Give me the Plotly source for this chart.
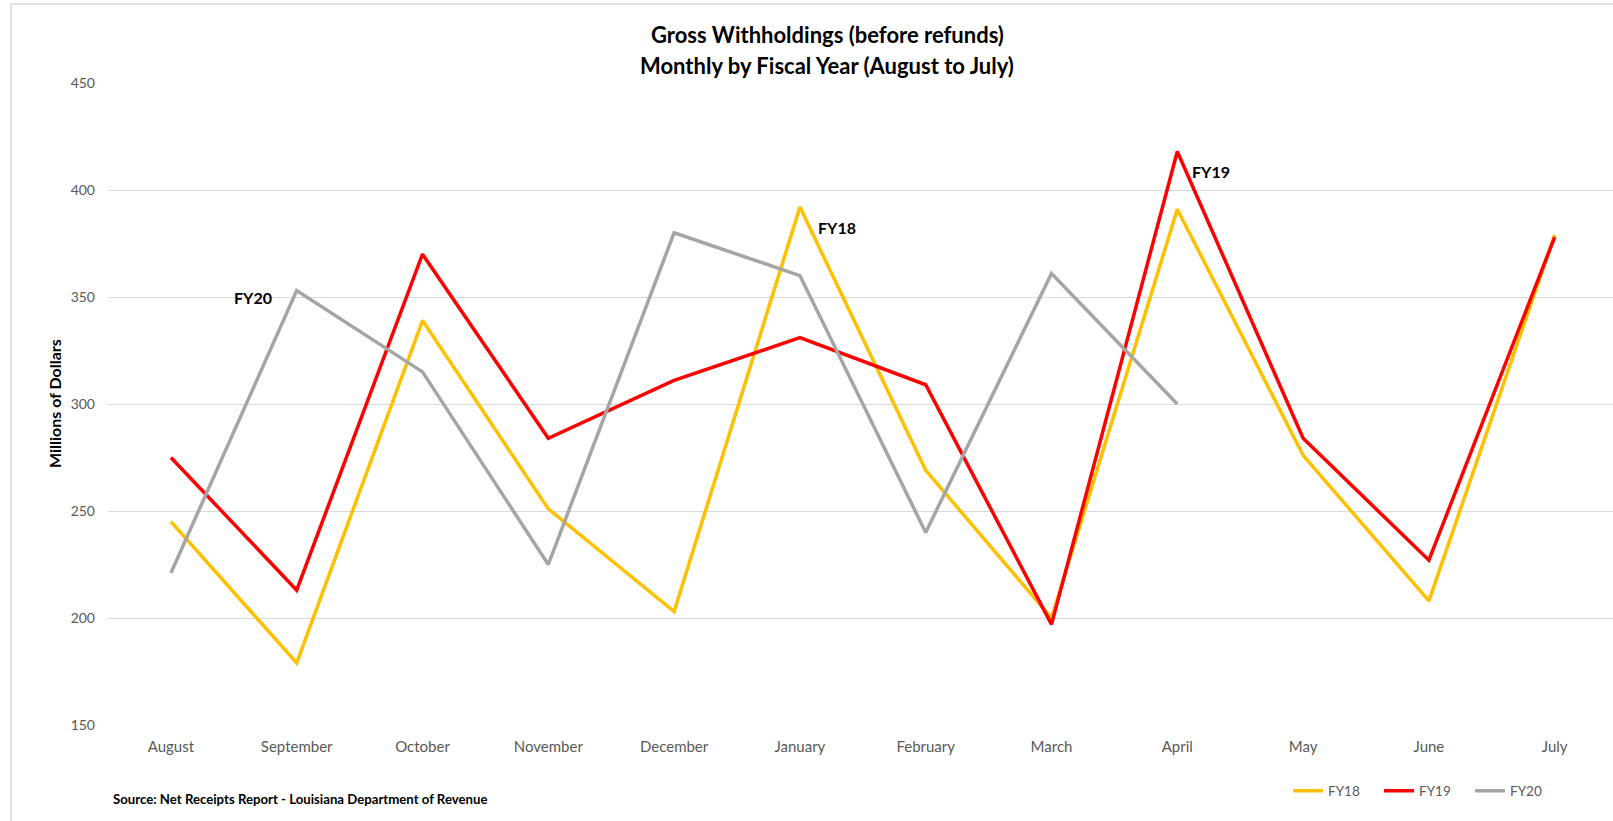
import plotly.graph_objects as go

months = ["August", "September", "October", "November", "December", "January",
          "February", "March", "April", "May", "June", "July"]
fy18 = [245, 179, 339, 251, 203, 392, 269, 200, 391, 276, 208, 379]
fy19 = [275, 213, 370, 284, 311, 331, 309, 197, 418, 284, 227, 378]
fy20 = [221, 353, 315, 225, 380, 360, 240, 361, 300]
y_ticks = [150, 200, 250, 300, 350, 400, 450]

FONT = "Lato"
W, H = 1613, 821
ML, MR, MT, MB = 108, 0, 83, 96
PW = W - ML - MR
PH = H - MT - MB

def px_x(x):
    return (x - ML) / PW

def px_y(y):
    return (H - MB - y) / PH

fig = go.Figure()
fig.add_trace(go.Scatter(x=months, y=fy18, name="FY18", mode="lines",
                         line=dict(color="#FFC000", width=3.5)))
fig.add_trace(go.Scatter(x=months, y=fy19, name="FY19", mode="lines",
                         line=dict(color="#FF0000", width=3.5)))
fig.add_trace(go.Scatter(x=months[:len(fy20)], y=fy20, name="FY20", mode="lines",
                         line=dict(color="#A5A5A5", width=3.5)))

annotations = [
    dict(text="<b>Gross Withholdings (before refunds)</b>", xref="paper", yref="paper",
         x=px_x(827), y=px_y(34), xanchor="center", yanchor="middle", showarrow=False,
         font=dict(family=FONT, size=22, color="#000000")),
    dict(text="<b>Monthly by Fiscal Year (August to July)</b>", xref="paper", yref="paper",
         x=px_x(827), y=px_y(65), xanchor="center", yanchor="middle", showarrow=False,
         font=dict(family=FONT, size=22, color="#000000")),
    dict(text="<b>Millions of Dollars</b>", xref="paper", yref="paper", textangle=-90,
         x=px_x(54), y=px_y(404), xanchor="center", yanchor="middle", showarrow=False,
         font=dict(family=FONT, size=16, color="#000000")),
    dict(text="<b>Source: Net Receipts Report - Louisiana Department of Revenue</b>",
         xref="paper", yref="paper", x=px_x(111), y=px_y(799), xanchor="left",
         yanchor="middle", showarrow=False,
         font=dict(family=FONT, size=13.2, color="#000000")),
    dict(text="<b>FY20</b>", xref="paper", yref="paper", x=px_x(253), y=px_y(297),
         xanchor="center", yanchor="middle", showarrow=False,
         font=dict(family=FONT, size=16, color="#000000")),
    dict(text="<b>FY18</b>", xref="paper", yref="paper", x=px_x(837), y=px_y(227),
         xanchor="center", yanchor="middle", showarrow=False,
         font=dict(family=FONT, size=16, color="#000000")),
    dict(text="<b>FY19</b>", xref="paper", yref="paper", x=px_x(1211), y=px_y(172),
         xanchor="center", yanchor="middle", showarrow=False,
         font=dict(family=FONT, size=16, color="#000000")),
]

shapes = [
    dict(type="rect", xref="paper", yref="paper", x0=px_x(11), x1=px_x(1700),
         y0=px_y(900), y1=px_y(4), line=dict(color="#D9D9D9", width=1.5),
         fillcolor="rgba(0,0,0,0)", layer="below"),
]

fig.update_layout(
    width=W, height=H,
    margin=dict(l=ML, r=MR, t=MT, b=MB, pad=0),
    paper_bgcolor="white", plot_bgcolor="white",
    font=dict(family=FONT, color="#595959"),
    showlegend=True,
    legend=dict(orientation="h", x=px_x(1288), y=px_y(791), xanchor="left",
                yanchor="middle", font=dict(family=FONT, size=13.5, color="#595959"),
                bgcolor="rgba(0,0,0,0)", entrywidth=46, itemwidth=30),
    annotations=annotations,
    shapes=shapes,
    xaxis=dict(type="category", categoryorder="array", categoryarray=months,
               range=[-0.5, PW / 125.8 - 0.5], showgrid=False, zeroline=False,
               showline=False, ticks="", tickfont=dict(family=FONT, size=15, color="#595959"),
               ticklabelstandoff=11, fixedrange=True),
    yaxis=dict(range=[150, 450], tickvals=y_ticks, showgrid=True, gridcolor="#D9D9D9",
               gridwidth=1, zeroline=False, showline=False, ticks="",
               tickfont=dict(family=FONT, size=14, color="#595959"),
               ticklabelstandoff=12, fixedrange=True),
)

fig.write_html("out.html", config={"displayModeBar": False},
               post_script="document.body.style.margin='0px';")
